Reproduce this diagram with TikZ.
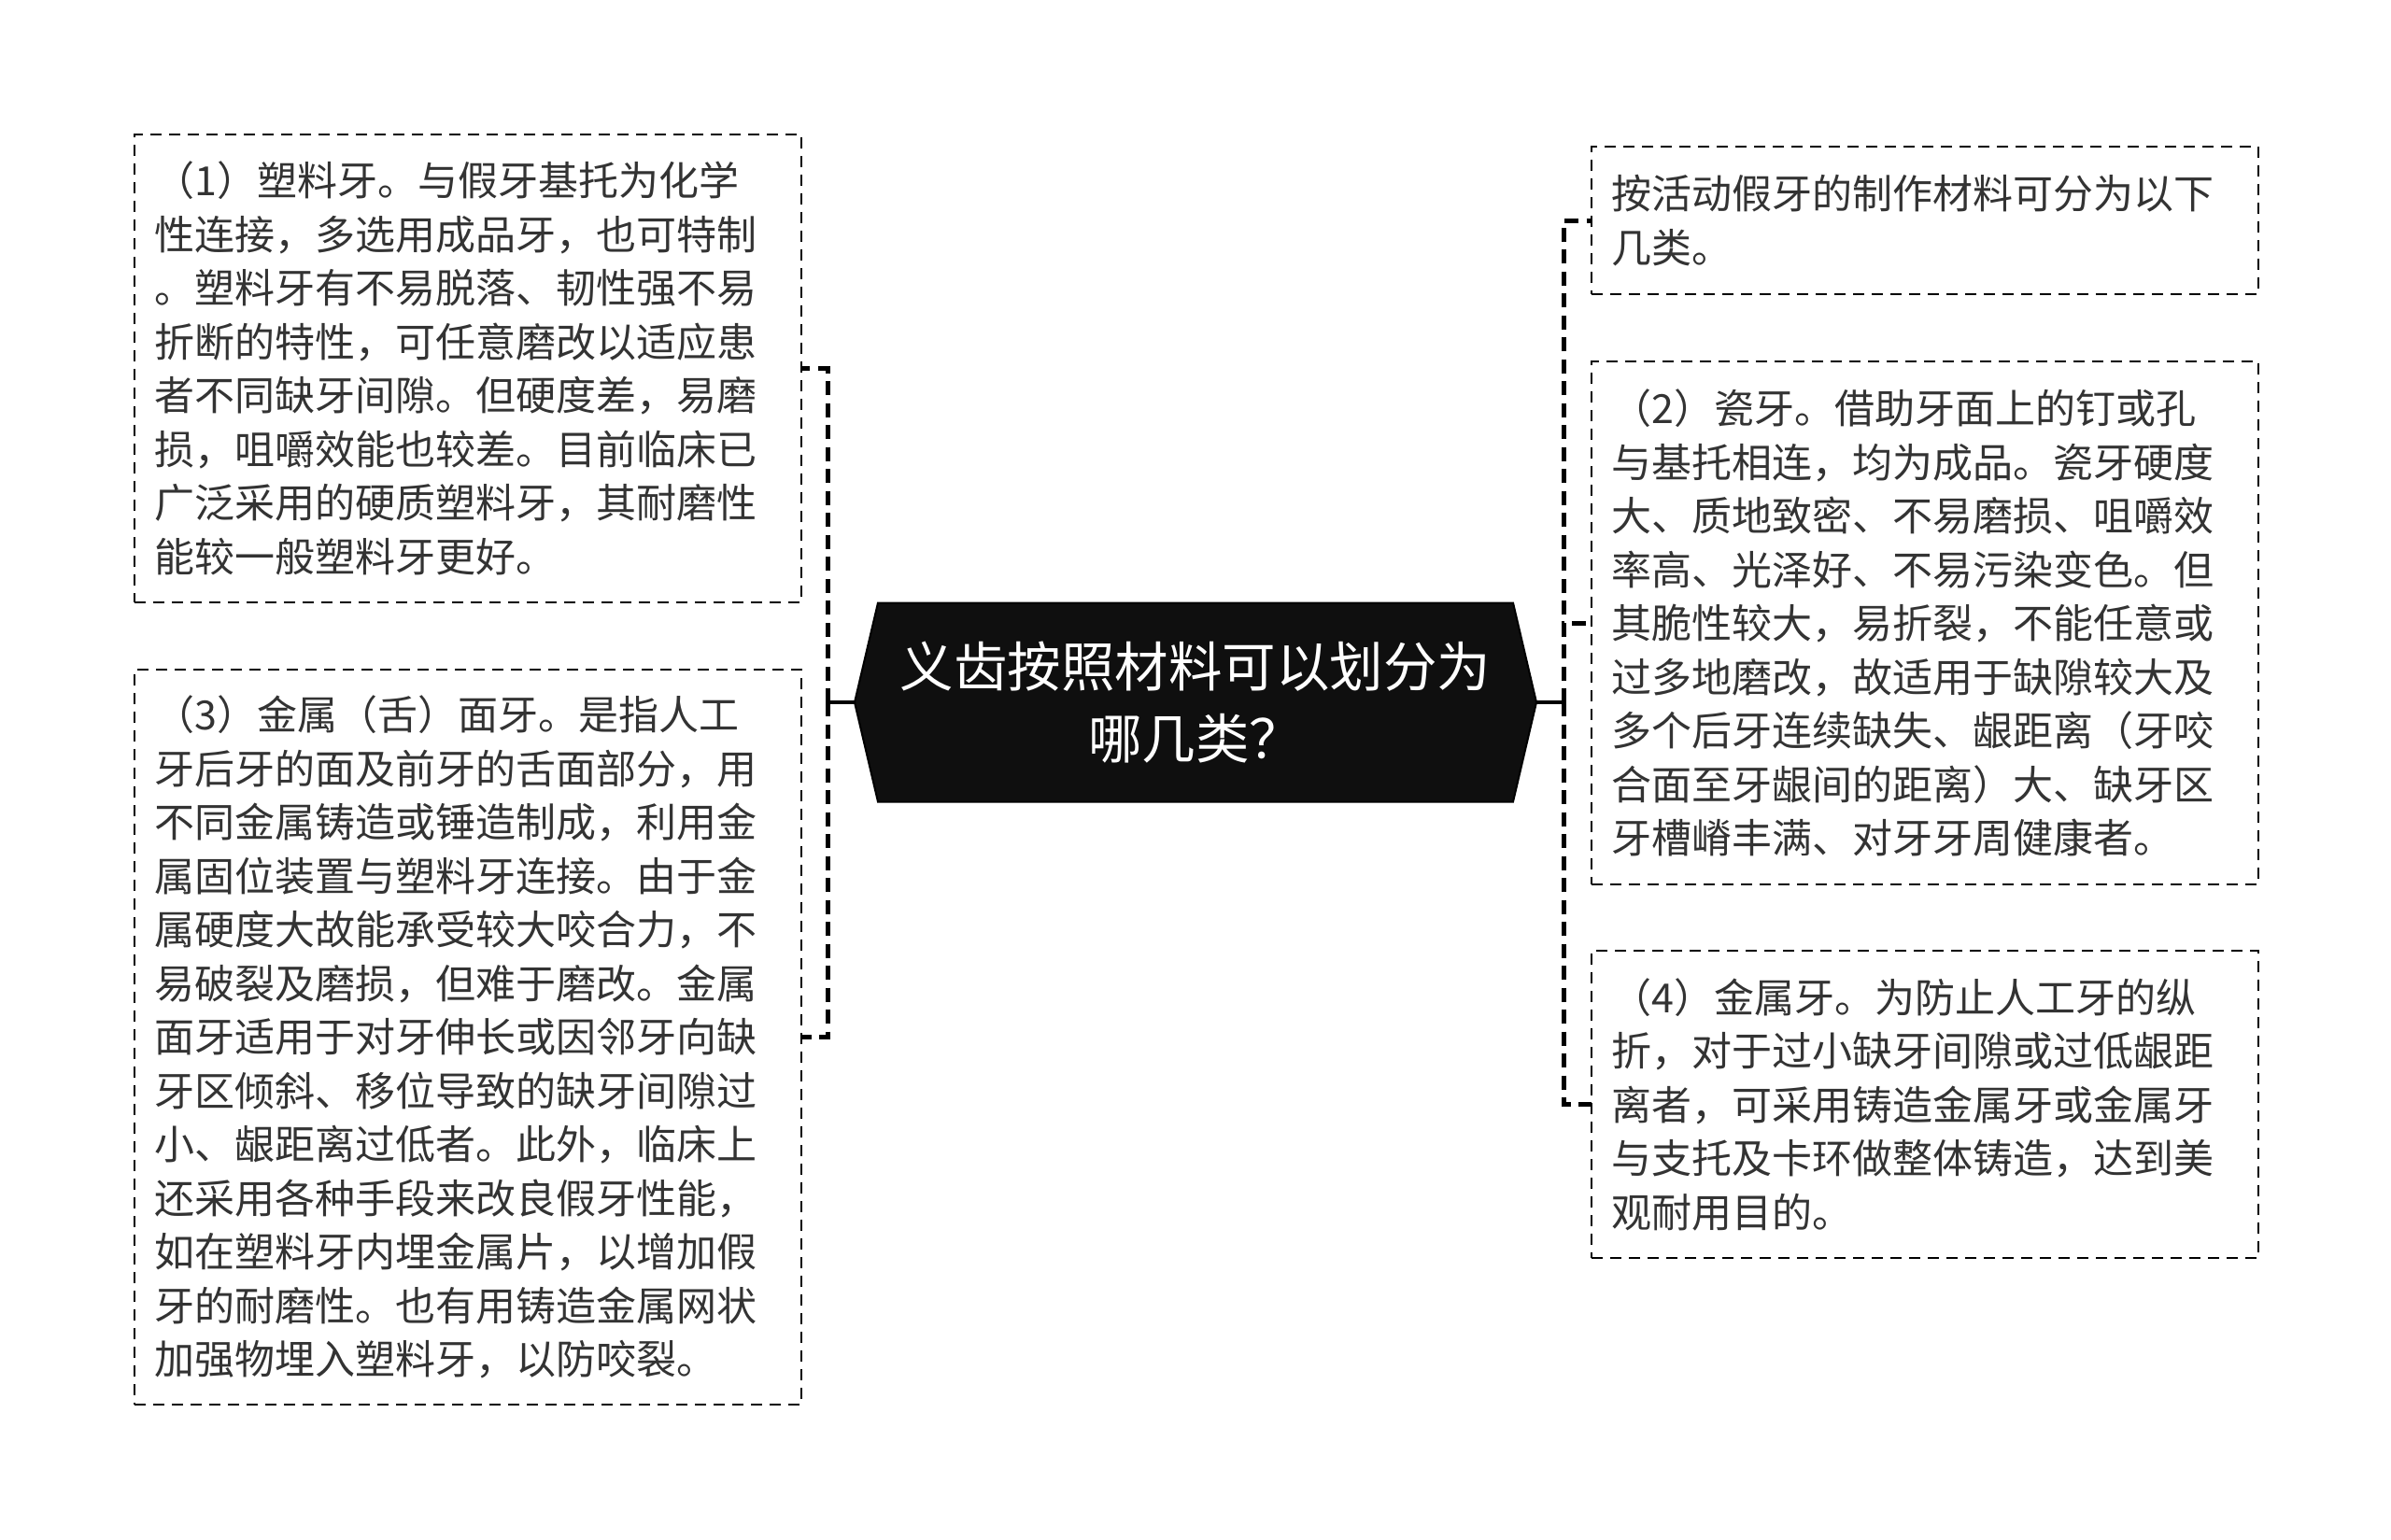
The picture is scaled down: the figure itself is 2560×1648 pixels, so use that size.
\documentclass[tikz,border=0pt]{standalone}
\usepackage{fontspec}
\usepackage{tikz}
\usetikzlibrary{backgrounds}
\newfontfamily\cjk{Noto Sans CJK SC}

\begin{document}
\begin{tikzpicture}[
  x=0.4pt,y=-0.4pt,
  item/.style={rectangle,draw=black,line width=0.8pt,dash pattern=on 4.8pt off 3.2pt,
    anchor=north west,outer sep=0pt,inner xsep=8.6pt,inner ysep=0pt,
    text width=268.4pt,align=left,text=black!80,
    font=\cjk\fontsize{17.2pt}{23pt}\selectfont},
  topic/.style={rectangle,outer sep=0pt,inner sep=0pt,minimum width=292pt,minimum height=85.2pt,
    align=center,text=white,font=\cjk\fontsize{23pt}{30.8pt}\selectfont},
  stem/.style={draw=black,line width=1.8pt},
  link/.style={draw=black,line width=2pt,dash pattern=on 6pt off 3.4pt}]

  \useasboundingbox (0,0) rectangle (2560,1648);

  % centre
  \node [topic] (q) at (1280,752) {义齿按照材料可以划分为\\哪几类？};

  % left side
  \node [item,minimum height=200.4pt] (b1) at (144,144)
    {（1）塑料牙。与假牙基托为化学\\性连接，多选用成品牙，也可特制\\。塑料牙有不易脱落、韧性强不易\\折断的特性，可任意磨改以适应患\\者不同缺牙间隙。但硬度差，易磨\\损，咀嚼效能也较差。目前临床已\\广泛采用的硬质塑料牙，其耐磨性\\能较一般塑料牙更好。};
  \node [item,minimum height=314.8pt] (b3) at (144,717)
    {（3）金属（舌）面牙。是指人工\\牙后牙的面及前牙的舌面部分，用\\不同金属铸造或锤造制成，利用金\\属固位装置与塑料牙连接。由于金\\属硬度大故能承受较大咬合力，不\\易破裂及磨损，但难于磨改。金属\\面牙适用于对牙伸长或因邻牙向缺\\牙区倾斜、移位导致的缺牙间隙过\\小、龈距离过低者。此外，临床上\\还采用各种手段来改良假牙性能，\\如在塑料牙内埋金属片，以增加假\\牙的耐磨性。也有用铸造金属网状\\加强物埋入塑料牙，以防咬裂。};

  % right side
  \node [item,minimum height=63.2pt] (b0) at (1704,157)
    {按活动假牙的制作材料可分为以下\\几类。};
  \node [item,minimum height=224pt] (b2) at (1704,387)
    {（2）瓷牙。借助牙面上的钉或孔\\与基托相连，均为成品。瓷牙硬度\\大、质地致密、不易磨损、咀嚼效\\率高、光泽好、不易污染变色。但\\其脆性较大，易折裂，不能任意或\\过多地磨改，故适用于缺隙较大及\\多个后牙连续缺失、龈距离（牙咬\\合面至牙龈间的距离）大、缺牙区\\牙槽嵴丰满、对牙牙周健康者。};
  \node [item,minimum height=131.6pt] (b4) at (1704,1018)
    {（4）金属牙。为防止人工牙的纵\\折，对于过小缺牙间隙或过低龈距\\离者，可采用铸造金属牙或金属牙\\与支托及卡环做整体铸造，达到美\\观耐用目的。};

  \begin{scope}[on background layer]
    \fill[white] (0,0) rectangle (2560,1648);
    \draw[fill=black!94,draw=black,line width=0.8pt,line join=miter]
      (q.west) -- ([xshift=10pt]q.north west) -- ([xshift=-10pt]q.north east)
      -- (q.east) -- ([xshift=-10pt]q.south east) -- ([xshift=10pt]q.south west) -- cycle;
  \end{scope}

  % connectors
  \path (q.west) ++(-29,0) coordinate (lj);
  \path (q.east) ++(29,0) coordinate (rj);
  \draw[stem] (q.west) -- (lj);
  \draw[stem] (q.east) -- (rj);
  \draw[link] (lj) |- (b1.east);
  \draw[link] (lj) |- (b3.east);
  \draw[link] (rj) |- (b0.west);
  \draw[link] (rj) |- (b2.west);
  \draw[link] (rj) |- (b4.west);

\end{tikzpicture}
\end{document}
